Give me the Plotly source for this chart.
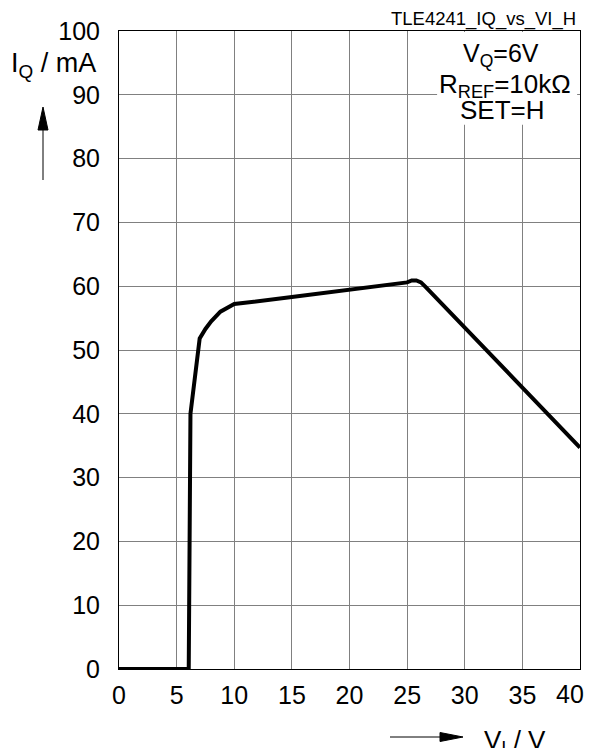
import plotly.graph_objects as go

vi = [0, 6.05, 6.2, 7.0, 7.5, 8.0, 8.8, 10.0, 15, 20, 25, 25.4, 25.8, 26.2, 26.6, 40]
iq = [0, 0, 40, 51.8, 53.3, 54.5, 56.0, 57.2, 58.3, 59.5, 60.6, 60.9, 60.9, 60.6, 59.9, 34.7]

x_ticks = [0, 5, 10, 15, 20, 25, 30, 35, 40]
y_ticks = [0, 10, 20, 30, 40, 50, 60, 70, 80, 90, 100]

FONT = "Liberation Sans, Arial, sans-serif"

# page has an 8px body margin; size the figure so the plot area lands
# at page x 119..580, y 31..669
OFF = 8
PL, PR, PT, PB = 119, 580, 31, 669
W, H = 579, 740
L = PL - OFF
T = PT - OFF
R = W - (PR - OFF)
B = H - (PB - OFF)
PW, PH = PR - PL, PB - PT


def px(xp):
    return (xp - PL) / PW


def py(yp):
    return (PB - yp) / PH


def label(text, xp, yp, size, xanchor="center"):
    fig.add_annotation(text=text, xref="paper", yref="paper",
                       x=px(xp), y=py(yp), xanchor=xanchor, yanchor="middle",
                       showarrow=False, font=dict(size=size))


fig = go.Figure()
fig.add_trace(go.Scatter(x=vi, y=iq, mode="lines",
                         line=dict(color="black", width=4),
                         hoverinfo="skip", showlegend=False))

fig.update_layout(
    width=W, height=H,
    margin=dict(l=L, r=R, t=T, b=B),
    paper_bgcolor="white", plot_bgcolor="white",
    font=dict(family=FONT, color="black", size=25),
    showlegend=False,
)
# the last x label (40) would be hidden past the figure edge, so it is
# drawn as a separate text just inside the edge
fig.update_xaxes(range=[0, 40], tickvals=x_ticks[:-1],
                 ticktext=[str(v) for v in x_ticks[:-1]],
                 showgrid=True, gridcolor="#808080", gridwidth=1,
                 showline=True, linecolor="black", linewidth=1, mirror=True,
                 zeroline=False, ticks="", ticklabelstandoff=4,
                 tickfont=dict(family=FONT, size=25))
fig.update_yaxes(range=[0, 100], tickvals=y_ticks, ticktext=[str(v) for v in y_ticks],
                 showgrid=True, gridcolor="#808080", gridwidth=1,
                 showline=True, linecolor="black", linewidth=1, mirror=True,
                 zeroline=False, ticks="", ticklabelstandoff=13,
                 tickfont=dict(family=FONT, size=25))

fig.add_annotation(text=str(x_ticks[-1]), xref="paper", yref="paper",
                   x=px(586), y=py(694), xanchor="right", yanchor="middle",
                   showarrow=False, font=dict(size=25))

# white box behind the parameter text
fig.add_shape(type="rect", xref="x", yref="y", x0=27.6, x1=39.75, y0=85.3, y1=99.85,
              fillcolor="white", line=dict(width=0), layer="above")

label("V<sub>Q</sub>=6V", 501, 55, 25)
label("R<sub>REF</sub>=10kΩ", 505, 85, 26)
label("SET=H", 502, 110, 26)

label("TLE4241_IQ_vs_VI_H", 578, 19, 18.5, xanchor="right")

label("I<sub>Q</sub> / mA", 53, 65, 27)
# up arrow
fig.add_shape(type="line", xref="paper", yref="paper",
              x0=px(43), x1=px(43), y0=py(180), y1=py(125),
              line=dict(color="black", width=1))
fig.add_shape(type="path", xref="paper", yref="paper",
              path=f"M {px(38)} {py(130)} L {px(48)} {py(130)} L {px(43)} {py(107)} Z",
              fillcolor="black", line=dict(color="black", width=1))

label("V<sub>I</sub> / V", 515, 741, 26)
# right arrow
fig.add_shape(type="line", xref="paper", yref="paper",
              x0=px(390), x1=px(445), y0=py(737), y1=py(737),
              line=dict(color="black", width=1))
fig.add_shape(type="path", xref="paper", yref="paper",
              path=f"M {px(440)} {py(732.5)} L {px(440)} {py(741.5)} L {px(463)} {py(737)} Z",
              fillcolor="black", line=dict(color="black", width=1))

fig.write_html("out.html", config={"displayModeBar": False})
